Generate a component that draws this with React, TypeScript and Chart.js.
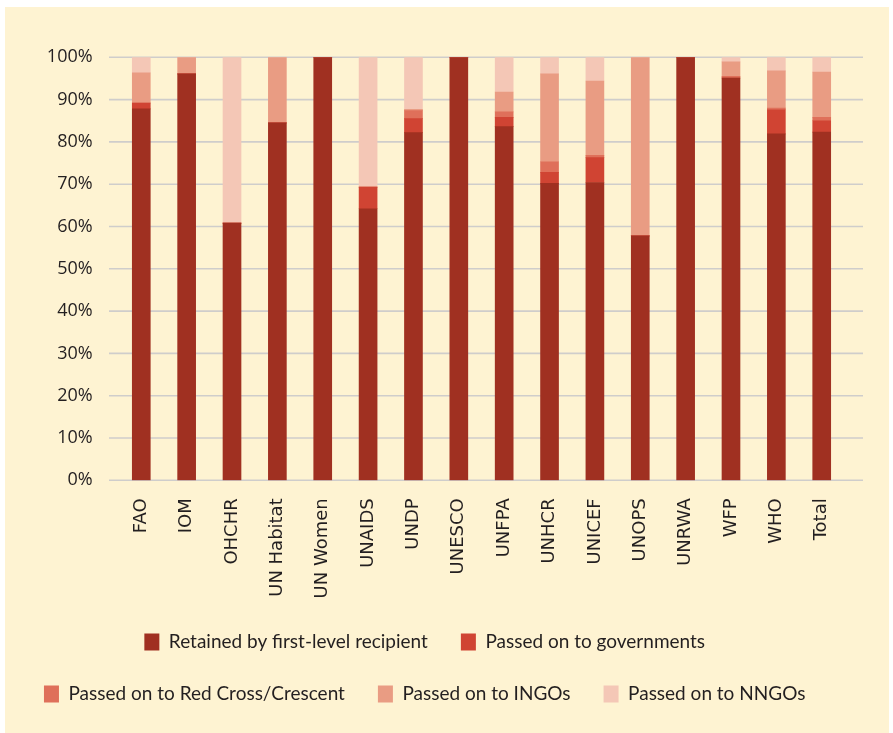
import React, { useEffect, useRef } from "react";
import { Chart, registerables } from "chart.js";

Chart.register(...registerables);

const categories = ["FAO", "IOM", "OHCHR", "UN Habitat", "UN Women", "UNAIDS", "UNDP", "UNESCO", "UNFPA", "UNHCR", "UNICEF", "UNOPS", "UNRWA", "WFP", "WHO", "Total"];
const retained = [87.8, 96.1, 60.8, 84.5, 100, 64.2, 82.2, 100, 83.6, 70.2, 70.4, 57.8, 100, 95.1, 81.9, 82.3];
const governments = [1.4, 0, 0, 0, 0, 5.1, 3.3, 0, 2.2, 2.6, 5.9, 0, 0, 0, 5.7, 2.7];
const redCross = [0, 0, 0, 0, 0, 0, 1.9, 0, 1.3, 2.5, 0.5, 0, 0, 0.4, 0.4, 0.8];
const ingos = [7.1, 3.9, 0, 15.5, 0, 0, 0.3, 0, 4.7, 20.8, 17.6, 42.2, 0, 3.4, 8.8, 10.7];
const nngos = [3.7, 0, 39.2, 0, 0, 30.7, 12.3, 0, 8.2, 3.9, 5.6, 0, 0, 1.1, 3.2, 3.5];
const seriesLabels = [
  "Retained by first-level recipient",
  "Passed on to governments",
  "Passed on to Red Cross/Crescent",
  "Passed on to INGOs",
  "Passed on to NNGOs",
];
const yTicks = [0, 10, 20, 30, 40, 50, 60, 70, 80, 90, 100];

const colors = ["#A03021", "#D04433", "#DF705A", "#E99C83", "#F4C7B6"];
const textColor = "#231F20";
const bg = "#FEF3D2";

const gridPlugin = {
  id: "extendedGrid",
  beforeDatasetsDraw(chart: any) {
    const { ctx, chartArea, scales } = chart;
    const y = scales.y;
    ctx.save();
    ctx.strokeStyle = "#CFCDCB";
    ctx.lineWidth = 1.6;
    for (const v of yTicks) {
      const py = y.getPixelForValue(v);
      ctx.beginPath();
      ctx.moveTo(chartArea.left - 9.6, py);
      ctx.lineTo(chartArea.right + 18.6, py);
      ctx.stroke();
    }
    ctx.restore();
  },
};

export default function App() {
  const ref = useRef<HTMLCanvasElement>(null);
  useEffect(() => {
    if (!ref.current) return;
    const data = [retained, governments, redCross, ingos, nngos];
    const chart = new Chart(ref.current, {
      type: "bar",
      data: {
        labels: categories,
        datasets: data.map((d, i) => ({
          label: seriesLabels[i],
          data: d,
          backgroundColor: colors[i],
          borderWidth: 0,
          barThickness: 18,
        })),
      },
      options: {
        responsive: false,
        animation: false,
        layout: { padding: { top: 50.3, right: 44.6, bottom: 19.5, left: 0 } },
        scales: {
          x: {
            stacked: true,
            grid: { display: false, drawTicks: false },
            border: { display: false },
            ticks: {
              minRotation: 90,
              maxRotation: 90,
              padding: 18,
              color: textColor,
              font: { family: "'DejaVu Sans', sans-serif", size: 18 },
            },
            afterFit: (s: any) => {
              s.height = 119.2;
            },
          },
          y: {
            stacked: true,
            min: 0,
            max: 100,
            grid: { display: false, drawTicks: false },
            border: { display: false },
            ticks: {
              stepSize: 10,
              padding: 26,
              color: textColor,
              font: { family: "'Open Sans', sans-serif", size: 18 },
              callback: (v: any) => v + "%",
            },
            afterFit: (s: any) => {
              s.width = 113.6;
            },
          },
        },
        plugins: {
          legend: {
            position: "bottom",
            labels: {
              boxWidth: 15,
              boxHeight: 17,
              padding: 33,
              color: textColor,
              font: { family: "Lato, sans-serif", size: 19 },
            },
          },
          tooltip: { enabled: false },
        },
      },
      plugins: [gridPlugin],
    });
    return () => chart.destroy();
  }, []);
  return (
    <div style={{ position: "fixed", left: 5, top: 7, width: 884, height: 726, background: bg }}>
      <canvas ref={ref} width={884} height={726} style={{ display: "block" }} />
    </div>
  );
}
